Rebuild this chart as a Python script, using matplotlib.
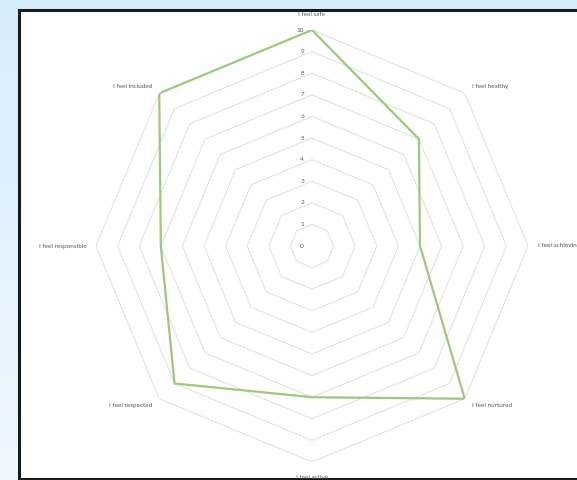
import numpy as np
import matplotlib
matplotlib.use("Agg")
import matplotlib.pyplot as plt
from matplotlib.patches import Rectangle

# data
categories = ["I feel safe", "I feel healthy", "I feel achieving", "I feel nurtured",
              "I feel active", "I feel respected", "I feel responsible", "I feel included"]
scores = [10, 7, 5, 10, 7, 9, 7, 10]
rings = [1, 2, 3, 4, 5, 6, 7, 8, 9, 10]
ring_labels = ["0", "1", "2", "3", "4", "5", "6", "7", "8", "9", "10"]

W, H = 577, 480
fig = plt.figure(figsize=(W / 100, H / 100), dpi=100)

# light blue backdrop
bg = fig.add_axes([0, 0, 1, 1])
grad = np.linspace(0, 1, 256).reshape(-1, 1)
top_c = np.array([0.84, 0.93, 0.99])
bot_c = np.array([0.94, 0.97, 1.0])
img = top_c + (bot_c - top_c) * grad[:, :, None]
bg.imshow(img, aspect="auto", extent=[0, 1, 0, 1], origin="upper")
bg.set_xlim(0, 1)
bg.set_ylim(0, 1)
bg.axis("off")

# white chart area with dark border
bg.add_patch(Rectangle((18.5 / W, 1.5 / H), (W + 10) / W, (478 - 9) / H,
                       transform=bg.transAxes, facecolor="white",
                       edgecolor="#1a1a1a", linewidth=2.2, clip_on=False))

cx, cy, R = 312, 246, 216
ax = fig.add_axes([(cx - R) / W, (H - cy - R) / H, 2 * R / W, 2 * R / H], polar=True)
ax.set_theta_zero_location("N")
ax.set_theta_direction(-1)
ax.set_ylim(0, 10)
ax.patch.set_alpha(0)
ax.spines["polar"].set_visible(False)
ax.grid(False)
ax.set_xticks([])
ax.set_yticks([])

n = len(categories)
theta = np.arange(n) * 2 * np.pi / n
theta_closed = np.append(theta, theta[0])

# octagon gridlines
for r in rings:
    ax.plot(theta_closed, [r] * (n + 1), color="#dedede", linewidth=0.7, zorder=1)

# series
vals = scores + scores[:1]
ax.plot(theta_closed, vals, color="#9cc97e", linewidth=1.6, zorder=3)

lab_font = dict(family=["Lato", "DejaVu Sans"], fontsize=4.6, color="#595959")

# category labels
for t, name in zip(theta, categories):
    s = np.sin(t)
    if abs(s) < 1e-6:
        ha = "center"
        rr = 10.7
    elif s > 0:
        ha = "left"
        rr = 10.45
    else:
        ha = "right"
        rr = 10.45
    ax.text(t, rr, name, ha=ha, va="center", clip_on=False, **lab_font)

# value axis labels
for i, lab in enumerate(ring_labels):
    ax.annotate(lab, xy=(0, i), xytext=(-8, 0), textcoords="offset pixels",
                ha="right", va="center", annotation_clip=False, **lab_font)

fig.savefig("out.png", dpi=100)
